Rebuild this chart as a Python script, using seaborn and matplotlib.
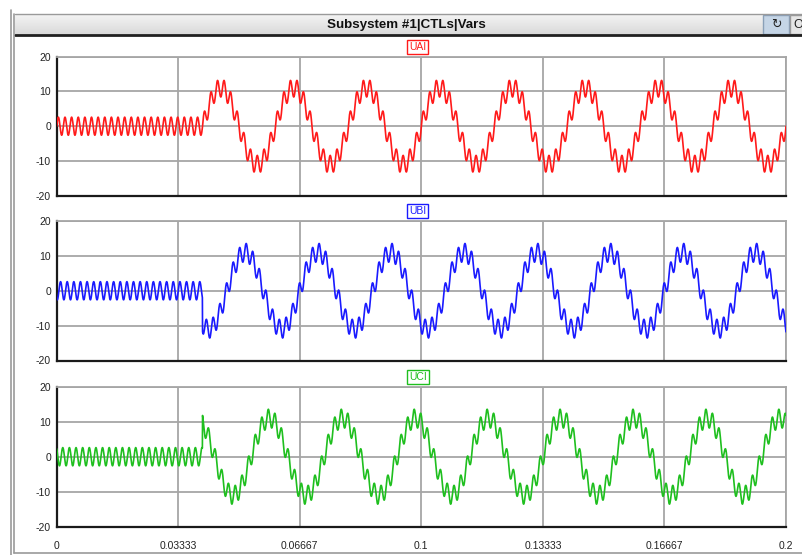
import numpy as np
import pandas as pd
import matplotlib
matplotlib.use("Agg")
import matplotlib.pyplot as plt
from matplotlib.patches import Rectangle
from matplotlib.lines import Line2D
import seaborn as sns

# ---- signal description (three phase voltages with 11th harmonic ripple) ----
signal_names = ["UAI", "UBI", "UCI"]
signal_colors = ["#ff1a1a", "#1a1aff", "#1fbf1f"]
phase_deg = [0.0, -120.0, 120.0]        # phase of each signal
fundamental_hz = [50.0]                 # fundamental frequency
fundamental_amp = [11.0]                # fundamental amplitude after switching
ripple_hz = [550.0]                     # ripple frequency
ripple_amp = [2.6]                      # ripple amplitude
switch_time = [0.04]                    # instant the fundamental is applied
time_span = [0.0, 0.2]
sample_step = [5e-5]

x_ticks = [0.0, 0.03333, 0.06667, 0.1, 0.13333, 0.16667, 0.2]
x_tick_labels = ["0", "0.03333", "0.06667", "0.1", "0.13333", "0.16667", "0.2"]
y_ticks = [-20, -10, 0, 10, 20]
y_tick_labels = ["-20", "-10", "0", "10", "20"]
window_title = "Subsystem #1|CTLs|Vars"

# ---- build the traces ----
t = np.arange(time_span[0], time_span[1] + sample_step[0] / 2, sample_step[0])
frames = []
for name, ph in zip(signal_names, phase_deg):
    p = np.deg2rad(ph)
    ripple = ripple_amp[0] * np.sin(2 * np.pi * ripple_hz[0] * t + p)
    fund = fundamental_amp[0] * np.sin(2 * np.pi * fundamental_hz[0] * t + p)
    v = ripple + np.where(t >= switch_time[0], fund, 0.0)
    frames.append(pd.DataFrame({"time": t, "value": v, "signal": name}))
data = pd.concat(frames, ignore_index=True)

# ---- figure ----
sns.set_style("white")
plt.rcParams["font.family"] = ["Liberation Sans", "DejaVu Sans"]

W, H = 803, 555
fig = plt.figure(figsize=(W / 100, H / 100), dpi=100)
fig.patch.set_facecolor("white")


def fx(px):
    return px / W


def fy(py):
    return 1 - py / H


# window chrome: title bar and borders
bar = fig.add_axes([fx(15), fy(35), fx(803 - 15), (35 - 14) / H])
grad = np.linspace(0, 1, 30).reshape(-1, 1)
bar.imshow(grad, aspect="auto", cmap=matplotlib.colors.LinearSegmentedColormap.from_list(
    "bar", ["#f4f4f4", "#d9d9d9"]), extent=[0, 1, 0, 1])
bar.set_xlim(0, 1)
bar.set_ylim(0, 1)
bar.axis("off")
bar.text(0.497, 0.48, window_title, ha="center", va="center", fontsize=9.6,
         fontweight="bold", color="#111111")

# buttons at the right of the title bar
fig.patches.append(Rectangle((fx(763), fy(34)), fx(26), (34 - 15) / H,
                             transform=fig.transFigure, facecolor="#c5d5e6",
                             edgecolor="#8aa0b8", lw=1))
fig.text(fx(776), fy(24.5), "\u21bb", ha="center", va="center", fontsize=9,
         color="#222222", family=["DejaVu Sans"])
fig.patches.append(Rectangle((fx(790), fy(34)), fx(15), (34 - 15) / H,
                             transform=fig.transFigure, facecolor="#e6e6e6",
                             edgecolor="#9a9a9a", lw=1))
fig.text(fx(798), fy(24.5), "O", ha="center", va="center", fontsize=9,
         color="#222222")

for xs, ys, c, lw in [
    ([fx(15), fx(803)], [fy(13.5), fy(13.5)], "#9a9a9a", 1.0),
    ([fx(15), fx(803)], [fy(35), fy(35)], "#202020", 2.0),
    ([fx(11.5), fx(11.5)], [fy(10), fy(555)], "#9a9a9a", 1.2),
    ([fx(14.5), fx(14.5)], [fy(13.5), fy(553)], "#9a9a9a", 1.2),
    ([fx(14.5), fx(803)], [fy(553), fy(553)], "#9a9a9a", 1.2),
]:
    fig.add_artist(Line2D(xs, ys, transform=fig.transFigure, color=c, lw=lw))

# ---- the three panels ----
panel_rows = [(56.7, 195.7), (221.0, 360.5), (386.7, 526.7)]
left_px, right_px = 56.7, 786.0

for i, (name, color, (top, bottom)) in enumerate(zip(signal_names, signal_colors, panel_rows)):
    ax = fig.add_axes([fx(left_px), fy(bottom), fx(right_px - left_px), (bottom - top) / H])
    sub = data[data["signal"] == name]
    sns.lineplot(data=sub, x="time", y="value", ax=ax, color=color, lw=1.2,
                 legend=False, zorder=3)
    ax.set_xlim(time_span[0], time_span[1])
    ax.set_ylim(-20, 20)
    ax.set_xlabel("")
    ax.set_ylabel("")
    ax.set_xticks(x_ticks)
    ax.set_yticks(y_ticks)
    ax.set_yticklabels(y_tick_labels, fontsize=7.5, color="#222222")
    if i == 2:
        ax.set_xticklabels(x_tick_labels, fontsize=7.5, color="#222222")
    else:
        ax.set_xticklabels([])
    ax.tick_params(axis="x", length=0, pad=10)
    ax.tick_params(axis="y", length=2.5, width=1, color="#333333", pad=1.5)
    ax.grid(True, color="#a6a6a6", lw=1.3, zorder=0)
    for s in ["top", "right"]:
        ax.spines[s].set_color("#a6a6a6")
        ax.spines[s].set_linewidth(1.3)
    for s in ["left", "bottom"]:
        ax.spines[s].set_color("#1a1a1a")
        ax.spines[s].set_linewidth(1.6)
    ax.set_facecolor("white")
    ax.text(0.495, 1.0 + 10.0 / (bottom - top), name, transform=ax.transAxes,
            ha="center", va="center", fontsize=7.5, color=color,
            bbox=dict(boxstyle="square,pad=0.2", facecolor="white",
                      edgecolor=color, lw=1.0), zorder=5)

fig.savefig("out.png", dpi=100)
